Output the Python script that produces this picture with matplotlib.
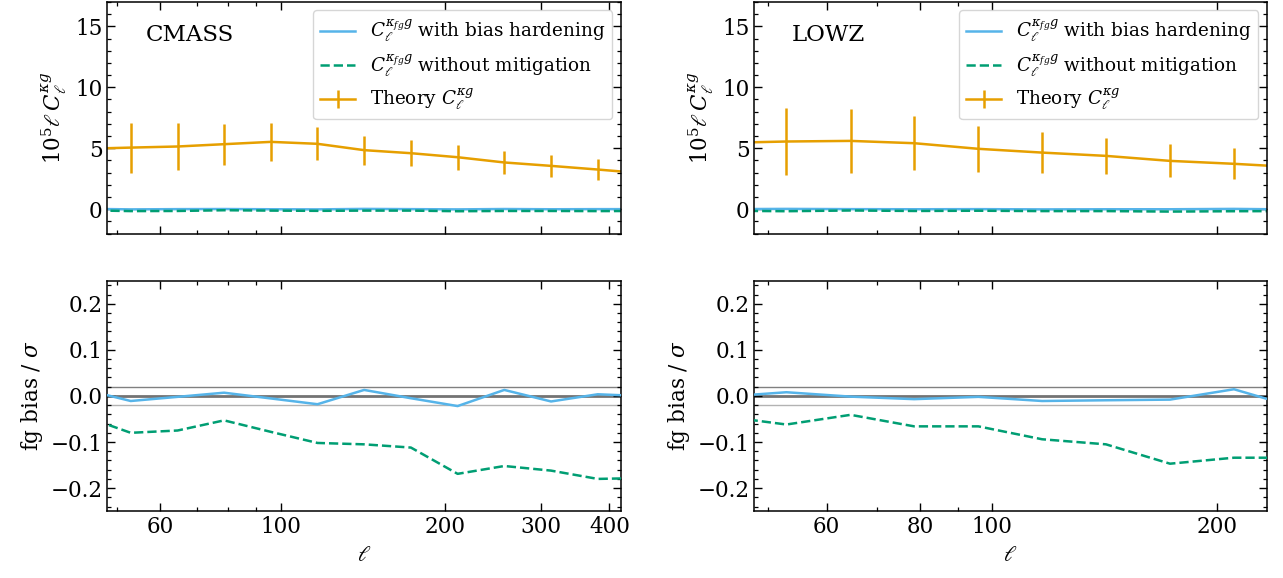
import numpy as np
import matplotlib
matplotlib.use("Agg")
import matplotlib.pyplot as plt
from matplotlib.ticker import FixedLocator, NullFormatter, MultipleLocator

# ===== データ =====
# ビン中心 ℓ（両端の点は表示範囲外）
ell_cmass = [43.5, 53.0, 64.6, 78.6, 95.8, 116.6, 142.0, 173.0, 210.7, 256.6, 312.6, 380.7, 463.6]
theory_cmass = [4.95, 5.05, 5.14, 5.33, 5.52, 5.36, 4.84, 4.59, 4.26, 3.83, 3.55, 3.25, 2.93]
err_cmass = [2.10, 2.05, 1.94, 1.67, 1.55, 1.35, 1.18, 1.07, 1.01, 0.97, 0.93, 0.89, 0.85]
bh_top_cmass = [0.03, -0.02, 0.0, 0.01, -0.01, -0.02, 0.02, 0.0, -0.02, 0.01, -0.01, 0.0, 0.0]
nomit_top_cmass = [-0.09, -0.16, -0.15, -0.09, -0.12, -0.14, -0.12, -0.12, -0.17, -0.15, -0.15, -0.16, -0.15]
bh_ratio_cmass = [0.014, -0.011, -0.002, 0.007, -0.0055, -0.018, 0.013, -0.005, -0.022, 0.013, -0.012, 0.0036, -0.0006]
nomit_ratio_cmass = [-0.044, -0.080, -0.075, -0.053, -0.078, -0.102, -0.105, -0.112, -0.169, -0.152, -0.162, -0.180, -0.178]

ell_lowz = [43.5, 53.0, 64.6, 78.6, 95.8, 116.6, 142.0, 173.0, 210.7, 256.6]
theory_lowz = [5.43, 5.55, 5.60, 5.41, 4.95, 4.64, 4.37, 3.96, 3.72, 3.43]
err_lowz = [2.90, 2.76, 2.61, 2.23, 1.91, 1.68, 1.50, 1.35, 1.27, 1.20]
bh_top_lowz = [0.0, 0.02, 0.0, -0.01, 0.0, -0.02, -0.01, -0.01, 0.02, -0.03]
nomit_top_lowz = [-0.13, -0.17, -0.11, -0.15, -0.13, -0.16, -0.16, -0.20, -0.17, -0.16]
bh_ratio_lowz = [-0.002, 0.008, -0.0015, -0.007, -0.002, -0.011, -0.0094, -0.008, 0.0145, -0.026]
nomit_ratio_lowz = [-0.044, -0.062, -0.041, -0.066, -0.066, -0.094, -0.105, -0.147, -0.134, -0.134]

panels = [
    dict(name="CMASS", ell=ell_cmass, th=theory_cmass, err=err_cmass,
         bh_top=bh_top_cmass, nm_top=nomit_top_cmass,
         bh=bh_ratio_cmass, nm=nomit_ratio_cmass,
         xlim=(48.0, 419.5), major=[60, 100, 200, 300, 400], minor=[50, 70, 80, 90]),
    dict(name="LOWZ", ell=ell_lowz, th=theory_lowz, err=err_lowz,
         bh_top=bh_top_lowz, nm_top=nomit_top_lowz,
         bh=bh_ratio_lowz, nm=nomit_ratio_lowz,
         xlim=(48.0, 233.1), major=[60, 80, 100, 200], minor=[50, 70, 90]),
]

C_BLUE = "#56B4E9"
C_GREEN = "#009E73"
C_ORANGE = "#E69F00"

plt.rcParams.update({
    "font.family": "serif",
    "font.serif": ["DejaVu Serif"],
    "mathtext.fontset": "dejavuserif",
    "font.size": 15.5,
    "axes.linewidth": 1.1,
    "xtick.direction": "in",
    "ytick.direction": "in",
    "xtick.top": True,
    "ytick.right": True,
    "xtick.major.size": 5.5,
    "ytick.major.size": 5.5,
    "xtick.minor.size": 3.0,
    "ytick.minor.size": 3.0,
    "xtick.major.width": 1.0,
    "ytick.major.width": 1.0,
    "xtick.minor.width": 0.9,
    "ytick.minor.width": 0.9,
    "xtick.minor.visible": True,
    "ytick.minor.visible": True,
})

fig = plt.figure(figsize=(12.83, 5.78), dpi=100)

lefts = [0.0836, 0.5879]
widths = [0.4002, 0.3994]

def set_xaxis(ax, p, labels=True):
    ax.set_xscale("log")
    ax.set_xlim(*p["xlim"])
    ax.xaxis.set_major_locator(FixedLocator(p["major"]))
    ax.xaxis.set_minor_locator(FixedLocator(p["minor"]))
    ax.xaxis.set_minor_formatter(NullFormatter())
    if labels:
        ax.set_xticklabels([str(v) for v in p["major"]])
    else:
        ax.set_xticklabels([])

for i, p in enumerate(panels):
    # 上段
    ax = fig.add_axes([lefts[i], 0.596, widths[i], 0.4006])
    ax.plot(p["ell"], p["bh_top"], color=C_BLUE, lw=1.8,
            label=r"$C_\ell^{\kappa_{fg}g}$ with bias hardening")
    ax.plot(p["ell"], p["nm_top"], color=C_GREEN, lw=1.8, ls="--",
            label=r"$C_\ell^{\kappa_{fg}g}$ without mitigation")
    ax.errorbar(p["ell"], p["th"], yerr=p["err"], color=C_ORANGE, lw=1.8,
                elinewidth=1.8, capsize=0, label=r"Theory $C_\ell^{\kappa g}$")
    set_xaxis(ax, p, labels=False)
    ax.set_ylim(-2, 17)
    ax.yaxis.set_major_locator(MultipleLocator(5))
    ax.yaxis.set_minor_locator(MultipleLocator(1))
    ax.set_ylabel(r"$10^5\ell\, C_\ell^{\kappa g}$")
    ax.text(0.074, 0.857, p["name"], transform=ax.transAxes,
            fontsize=16.5, va="center", ha="left")
    h, l = ax.get_legend_handles_labels()
    ax.legend(h, l, loc="upper right", fontsize=13.2, framealpha=0.8,
              handlelength=1.9, borderaxespad=0.45, labelspacing=0.45)

    # 下段
    ax2 = fig.add_axes([lefts[i], 0.1156, widths[i], 0.3988])
    ax2.axhline(0.0, color="0.45", lw=2.0, zorder=1)
    ax2.axhline(0.02, color="0.5", lw=1.0, zorder=1)
    ax2.axhline(-0.02, color="0.7", lw=1.0, zorder=1)
    ax2.plot(p["ell"], p["bh"], color=C_BLUE, lw=1.8, zorder=3)
    ax2.plot(p["ell"], p["nm"], color=C_GREEN, lw=1.8, ls="--", zorder=3)
    set_xaxis(ax2, p, labels=True)
    ax2.set_ylim(-0.25, 0.25)
    ax2.yaxis.set_major_locator(MultipleLocator(0.1))
    ax2.yaxis.set_minor_locator(MultipleLocator(0.02))
    ax2.set_ylabel(r"fg bias / $\sigma$")
    ax2.set_xlabel(r"$\ell$")

fig.savefig("out.png", dpi=100)
